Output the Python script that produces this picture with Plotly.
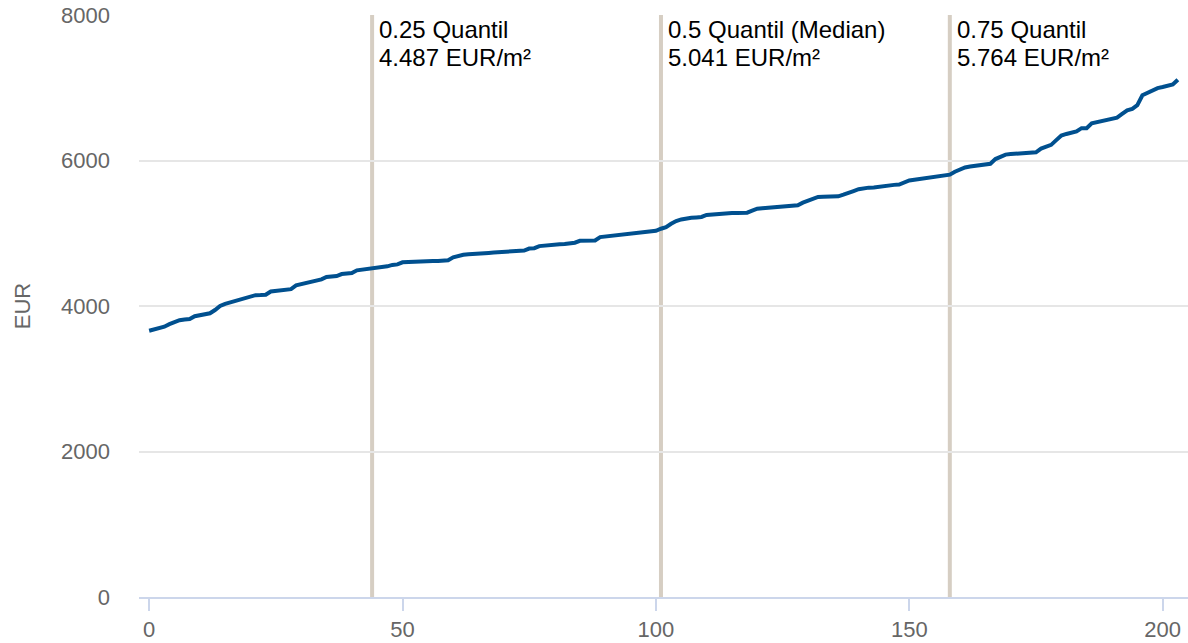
#! /usr/bin/env python3
import plotly.graph_objects as go

# sorted price per m2 values, one per offer (index 0..203)
price_eur = [
    3660, 3675, 3695, 3715, 3750, 3785, 3805, 3815, 3820, 3860,
    3870, 3890, 3900, 3945, 4000, 4030, 4050, 4070, 4090, 4103,
    4125, 4149, 4150, 4155, 4200, 4205, 4214, 4225, 4232, 4283,
    4300, 4320, 4338, 4350, 4366, 4400, 4405, 4412, 4439, 4445,
    4453, 4490, 4500, 4505, 4515, 4522, 4530, 4545, 4565, 4572,
    4600, 4605, 4610, 4613, 4615, 4615, 4617, 4620, 4625, 4630,
    4670, 4693, 4705, 4712, 4714, 4715, 4716, 4730, 4735, 4740,
    4745, 4748, 4755, 4758, 4762, 4790, 4795, 4823, 4832, 4841,
    4845, 4848, 4851, 4854, 4870, 4896, 4898, 4899, 4900, 4947,
    4955, 4965, 4980, 4985, 4990, 4997, 5005, 5015, 5020, 5028,
    5034, 5062, 5085, 5130, 5168, 5190, 5205, 5212, 5218, 5224,
    5251, 5258, 5265, 5272, 5275, 5277, 5279, 5281, 5283, 5310,
    5338, 5345, 5352, 5360, 5365, 5370, 5375, 5380, 5384, 5420,
    5445, 5475, 5500, 5503, 5505, 5507, 5508, 5530, 5550, 5580,
    5605, 5622, 5627, 5629, 5640, 5650, 5660, 5665, 5670, 5700,
    5726, 5735, 5744, 5750, 5756, 5765, 5775, 5790, 5805, 5846,
    5875, 5905, 5918, 5929, 5938, 5947, 5955, 6020, 6050, 6081,
    6088, 6093, 6100, 6105, 6110, 6113, 6164, 6190, 6215, 6280,
    6344, 6365, 6385, 6399, 6445, 6445, 6510, 6525, 6545, 6555,
    6575, 6590, 6640, 6690, 6710, 6760, 6897, 6930, 6975, 6995,
    7010, 7025, 7044, 7110,
]
offer_idx = list(range(len(price_eur)))

quantile_pos = [44, 101, 158]
quantile_title = ['0.25 Quantil', '0.5 Quantil (Median)', '0.75 Quantil']
quantile_value = ['4.487 EUR/m²', '5.041 EUR/m²', '5.764 EUR/m²']

FONT = 'Liberation Sans, Arial, sans-serif'

fig = go.Figure()
fig.add_trace(go.Scatter(
    x=offer_idx, y=price_eur, mode='lines',
    line=dict(color='#00508f', width=4),
    showlegend=False, hoverinfo='x+y',
))

for pos, title, val in zip(quantile_pos, quantile_title, quantile_value):
    fig.add_shape(type='line', xref='x', yref='paper',
                  x0=pos, x1=pos, y0=0, y1=1,
                  line=dict(color='#d6cec3', width=4), layer='below')
    fig.add_annotation(x=pos, y=1, xref='x', yref='paper',
                       text=title, showarrow=False,
                       xanchor='left', yanchor='top', xshift=5, yshift=1,
                       font=dict(family=FONT, size=24, color='#000000'))
    fig.add_annotation(x=pos, y=1, xref='x', yref='paper',
                       text=val, showarrow=False,
                       xanchor='left', yanchor='top', xshift=5, yshift=-27,
                       font=dict(family=FONT, size=24, color='#000000'))

fig.update_layout(
    width=1188, height=643,
    margin=dict(l=139, r=0, t=15, b=46),
    plot_bgcolor='white', paper_bgcolor='white',
    font=dict(family=FONT, size=22, color='#666666'),
    xaxis=dict(range=[-2, 205], tickvals=[0, 50, 100, 150, 200],
               showgrid=False, zeroline=False, automargin=False,
               showline=True, linecolor='#ccd6eb', linewidth=2,
               ticks='outside', ticklen=12, tickwidth=2,
               tickcolor='#ccd6eb', tickfont=dict(size=22, color='#666666')),
    yaxis=dict(range=[0, 8000], tickvals=[0, 2000, 4000, 6000, 8000],
               showgrid=True, gridcolor='#e6e6e6', gridwidth=1.5,
               zeroline=False, showline=False, automargin=False,
               ticklabelstandoff=28,
               tickfont=dict(size=22, color='#666666'),
               title=dict(text='EUR', standoff=24,
                          font=dict(size=22, color='#666666'))),
)

# page body has a default 8px margin, drop it so the chart fills the window
fig.write_html("out.html",
               config={'displayModeBar': False},
               post_script="document.body.style.margin='0';"
                           "document.body.style.overflow='hidden';")
